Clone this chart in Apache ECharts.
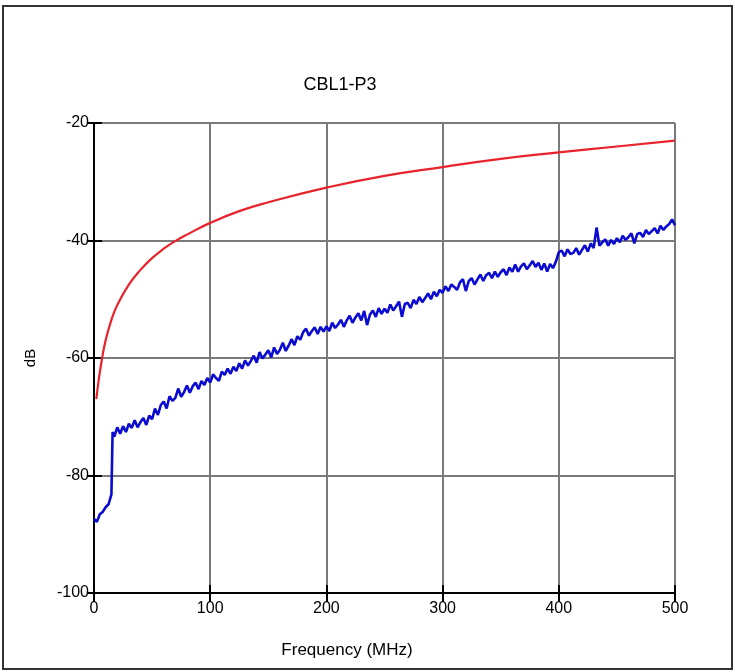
<!DOCTYPE html>
<html>
<head>
<meta charset="utf-8">
<script src="https://cdn.jsdelivr.net/npm/echarts@6/dist/echarts.min.js"></script>
<style>
  html, body { margin: 0; padding: 0; background: #fff; }
  #main { width: 735px; height: 672px; }
</style>
</head>
<body>
<div id="main"></div>
<script>
// limit line (red)
let limitFreq = [2, 4, 7, 10, 15, 20, 30, 40, 50, 60, 70, 80, 100, 125, 150, 200, 250, 300, 350, 400, 450, 500];
let limitDb = [-67, -63.8, -60, -57, -53.5, -51, -47.5, -45, -43, -41.4, -40.1, -39, -37, -35, -33.5, -31, -29, -27.5, -26.1, -25, -24, -23];

// measured CBL1-P3 (blue)
let measFreq = [
  0, 2.5, 5, 7.5, 10, 12.5, 15, 16, 17.5, 20, 22.5, 25, 27.5, 30, 32.5, 35, 37.5, 40, 42.5, 45, 47.5,
  50, 52.5, 55, 57.5, 60, 62.5, 65, 67.5, 70, 72.5, 75, 77.5, 80, 82.5, 85, 87.5, 90, 92.5, 95, 97.5,
  100, 102.5, 105, 107.5, 110, 112.5, 115, 117.5, 120, 122.5, 125, 127.5, 130, 132.5, 135, 137.5, 140, 142.5, 145, 147.5,
  150, 152.5, 155, 157.5, 160, 162.5, 165, 167.5, 170, 172.5, 175, 177.5, 180, 182.5, 185, 187.5, 190, 192.5, 195, 197.5,
  200, 202.5, 205, 207.5, 210, 212.5, 215, 217.5, 220, 222.5, 225, 227.5, 230, 232.5, 235, 237.5, 240, 242.5, 245, 247.5,
  250, 252.5, 255, 257.5, 260, 262.5, 265, 267.5, 270, 272.5, 275, 277.5, 280, 282.5, 285, 287.5, 290, 292.5, 295, 297.5,
  300, 302.5, 305, 307.5, 310, 312.5, 315, 317.5, 320, 322.5, 325, 327.5, 330, 332.5, 335, 337.5, 340, 342.5, 345, 347.5,
  350, 352.5, 355, 357.5, 360, 362.5, 365, 367.5, 370, 372.5, 375, 377.5, 380, 382.5, 385, 387.5, 390, 392.5, 395, 397.5,
  400, 402.5, 405, 407.5, 410, 412.5, 415, 417.5, 420, 422.5, 425, 427.5, 430, 432.5, 435, 437.5, 440, 442.5, 445, 447.5,
  450, 452.5, 455, 457.5, 460, 462.5, 465, 467.5, 470, 472.5, 475, 477.5, 480, 482.5, 485, 487.5, 490, 492.5, 495, 497.5,
  500
];
let measDb = [
  -87.4, -87.9, -86.6, -86.2, -85.4, -84.9, -83.2, -72.6, -73.4, -71.8, -72.9, -71.6, -72.6, -71.2, -71.9, -70.6, -71.8, -70.9, -70.2, -71.4, -69.8,
  -70.4, -68.6, -69.7, -68.0, -67.4, -68.6, -66.5, -67.3, -66.8, -65.2, -66.6, -65.8, -64.7, -65.9, -64.8, -64.2, -65.3, -63.9, -64.6, -63.4,
  -64.2, -62.8, -63.4, -63.9, -62.3, -62.9, -61.8, -62.7, -61.5, -62.2, -60.9, -61.8, -60.4, -61.3, -60.5, -59.6, -60.8, -59.0, -60.1, -59.4,
  -58.7, -59.9, -58.2, -59.3, -58.6, -57.4, -58.8, -57.9, -56.8, -57.8, -56.3, -56.9, -55.6, -55.0, -56.2, -55.4, -54.8, -55.9, -54.7, -55.5,
  -54.6, -55.4, -54.0, -54.9, -54.3, -53.5, -54.7, -53.6, -52.8, -54.0, -53.1, -52.4, -53.6, -52.0, -54.4, -52.6, -51.9, -53.0, -51.5, -52.5,
  -51.6, -52.3, -50.9, -51.9, -51.2, -50.4, -53.0, -50.8, -50.6, -51.5, -50.1, -50.8, -49.6, -50.5, -49.8, -49.0, -50.0, -48.7, -49.5, -48.4,
  -48.9, -47.8, -48.6, -47.5, -47.9, -48.4, -47.1, -46.6, -48.6, -46.9, -46.4, -47.5, -46.6, -45.8, -46.9, -45.9, -45.5, -46.4, -45.3, -46.2,
  -45.4, -44.9, -45.9, -44.6, -45.3, -44.1, -45.3, -44.4, -43.9, -44.9, -44.2, -43.5, -44.5, -43.8, -45.0, -43.9, -45.3, -44.0, -44.7, -43.6,
  -42.0, -41.7, -42.7, -41.5, -42.3, -42.1, -41.3, -42.4, -41.6, -40.8, -41.9, -40.5, -41.3, -37.8, -40.9, -40.3, -39.8, -40.9, -39.9, -40.6,
  -39.6, -40.3, -39.2, -39.9, -39.4, -38.8, -40.5, -38.9, -38.7, -39.4, -38.2, -38.9, -38.4, -37.9, -38.8, -37.5, -38.2, -37.6, -37.2, -36.4,
  -37.4
];

let xTicks = [0, 100, 200, 300, 400, 500];
let yTicks = [-100, -80, -60, -40, -20];

let chart = echarts.init(document.getElementById('main'));

let fontFamily = '"Liberation Sans", Arial, sans-serif';
let labelStyle = { color: '#000', fontSize: 16, fontFamily: fontFamily };

let limitData = limitFreq.map(function (f, i) { return [f, limitDb[i]]; });
let measData = measFreq.map(function (f, i) { return [f, measDb[i]]; });

let option = {
  animation: false,
  backgroundColor: '#fff',
  graphic: [
    {
      type: 'rect',
      shape: { x: 3, y: 6, width: 729, height: 663 },
      style: { fill: 'none', stroke: '#333', lineWidth: 2 }
    },
    {
      type: 'text',
      x: 340, y: 85,
      style: { text: 'CBL1-P3', fill: '#000', font: '18px ' + fontFamily, align: 'center', verticalAlign: 'middle' }
    },
    {
      type: 'text',
      x: 347, y: 650,
      style: { text: 'Frequency (MHz)', fill: '#000', font: '17px ' + fontFamily, align: 'center', verticalAlign: 'middle' }
    }
  ],
  grid: { left: 94, right: 60, top: 123, bottom: 79, containLabel: false },
  xAxis: [
    {
      type: 'value',
      min: xTicks[0], max: xTicks[xTicks.length - 1], interval: 100,
      axisLine: { show: true, onZero: false, lineStyle: { color: '#000', width: 2 } },
      axisTick: { show: true, length: 9, lineStyle: { color: '#000', width: 2 } },
      axisLabel: Object.assign({ margin: 8 }, labelStyle),
      splitLine: { show: true, lineStyle: { color: '#7a7a7a', width: 2 } }
    },
    {
      type: 'value', position: 'bottom',
      min: xTicks[0], max: xTicks[xTicks.length - 1], interval: 100,
      axisLine: { show: false },
      axisTick: { show: true, inside: true, length: 8, lineStyle: { color: '#000', width: 2 } },
      axisLabel: { show: false },
      splitLine: { show: false }
    }
  ],
  yAxis: [
    {
      type: 'value',
      min: yTicks[0], max: yTicks[yTicks.length - 1], interval: 20,
      name: 'dB', nameLocation: 'middle', nameGap: 56, nameRotate: 90,
      nameTextStyle: { color: '#000', fontSize: 15, fontFamily: fontFamily },
      axisLine: { show: true, onZero: false, lineStyle: { color: '#000', width: 2 } },
      axisTick: { show: true, length: 7, lineStyle: { color: '#000', width: 2 } },
      axisLabel: Object.assign({ margin: 5 }, labelStyle),
      splitLine: { show: true, lineStyle: { color: '#7a7a7a', width: 2 } }
    },
    {
      type: 'value', position: 'left',
      min: yTicks[0], max: yTicks[yTicks.length - 1], interval: 20,
      axisLine: { show: false },
      axisTick: { show: true, inside: true, length: 8, lineStyle: { color: '#000', width: 2 } },
      axisLabel: { show: false },
      splitLine: { show: false }
    }
  ],
  series: [
    {
      name: 'Limit',
      type: 'line',
      data: limitData,
      smooth: true,
      showSymbol: false,
      lineStyle: { color: '#e8232b', width: 2.2 },
      z: 3
    },
    {
      name: 'CBL1-P3',
      type: 'line',
      data: measData,
      showSymbol: false,
      lineStyle: { color: '#0a0ad0', width: 2.6 },
      z: 4
    }
  ]
};

chart.setOption(option);
</script>
</body>
</html>
